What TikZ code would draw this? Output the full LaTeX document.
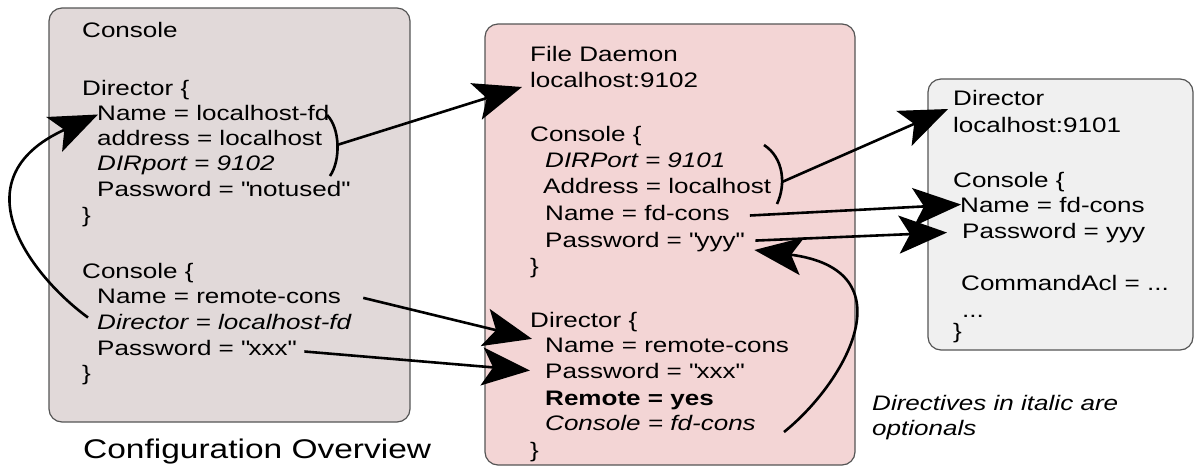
\documentclass[tikz,border=0pt]{standalone}
\usepackage{fontspec}
\setmainfont{Liberation Sans}[FakeStretch=1.24]
\usetikzlibrary{arrows.meta}
\definecolor{leftfill}{HTML}{E1D9D9}
\definecolor{midfill}{HTML}{F3D5D5}
\definecolor{rightfill}{HTML}{F0F0F0}
\definecolor{edgegray}{HTML}{555555}
\newcommand\bodyfont{\fontsize{21}{26}\selectfont}
\newcommand\capfont{\fontsize{27}{31}\selectfont}
\newcommand\dq{\textquotedbl}
\begin{document}
\begin{tikzpicture}[x=1pt,y=-1pt,
  ln/.style={anchor=base west, inner sep=0pt, font=\bodyfont},
  panel/.style={draw=edgegray, line width=1.2pt, rounded corners=13pt},
  arr/.style={line width=2.6pt, -{Stealth[length=48pt,width=38pt,inset=11pt]}},
  brk/.style={line width=2.6pt}]
\useasboundingbox (0,0) rectangle (1195,467);
% panels
\draw[panel, fill=leftfill] (49,8) rectangle (410,422);
\draw[panel, fill=midfill] (485,24) rectangle (855,465);
\draw[panel, fill=rightfill] (928,79) rectangle (1193,350);
% left texts
\node[ln] (L1) at (82,37) {Console};
\node[ln] (L2) at (82,95) {Director \{};
\node[ln] (L3) at (97,120) {Name = localhost-fd};
\node[ln] (L4) at (97,145) {address = localhost};
\node[ln] (L5) at (97,170) {\itshape DIRport = 9102};
\node[ln] (L6) at (97,196) {Password = \dq notused\dq};
\node[ln] (L7) at (82,222) {\}};
\node[ln] (L8) at (82,278) {Console \{};
\node[ln] (L9) at (97,303) {Name = remote-cons};
\node[ln] (L10) at (97,329) {\itshape Director = localhost-fd};
\node[ln] (L11) at (97,355) {Password = \dq xxx\dq};
\node[ln] (L12) at (82,380) {\}};
\node[anchor=base west, inner sep=0pt, font=\capfont] (cap) at (83,458) {Configuration Overview};
% middle texts
\node[ln] (M1) at (530,61) {File Daemon};
\node[ln] (M2) at (530,87) {localhost:9102};
\node[ln] (M3) at (530,141) {Console \{};
\node[ln] (M4) at (545,167) {\itshape DIRPort = 9101};
\node[ln] (M5) at (543,193) {Address = localhost};
\node[ln] (M6) at (545,220) {Name = fd-cons};
\node[ln] (M7) at (545,247) {Password = \dq yyy\dq};
\node[ln] (M8) at (530,273) {\}};
\node[ln] (M9) at (530,327) {Director \{};
\node[ln] (M10) at (545,352) {Name = remote-cons};
\node[ln] (M11) at (545,378) {Password = \dq xxx\dq};
\node[ln] (M12) at (545,405) {\bfseries Remote = yes};
\node[ln] (M13) at (545,430) {\itshape Console = fd-cons};
\node[ln] (M14) at (530,457) {\}};
% right texts
\node[ln] (R1) at (953,105) {Director};
\node[ln] (R2) at (953,132) {localhost:9101};
\node[ln] (R3) at (953,187) {Console \{};
\node[ln] (R4) at (960,212) {Name = fd-cons};
\node[ln] (R5) at (962,238) {Password = yyy};
\node[ln] (R6) at (961,290) {CommandAcl = ...};
\node[ln] (R7) at (962,317) {...};
\node[ln] (R8) at (953,338) {\}};
% note
\node[ln, font=\bodyfont\itshape] (N1) at (872,410) {Directives in italic are};
\node[ln, font=\bodyfont\itshape] (N2) at (872,435) {optionals};
% brackets
\coordinate (lbrk) at (337,145);
\draw[brk] (327,115) .. controls (340,128) and (341,160) .. (330,176);
\coordinate (mbrk) at (782,182);
\draw[brk] (764,145) .. controls (784,158) and (786,185) .. (777,204);
% connectors
\draw[arr] ([xshift=-9pt,yshift=4pt]L10.west) .. controls +(-55,-40) and +(-143,65) .. ([xshift=1pt,yshift=-2pt]L3.west);
\draw[arr] (lbrk) -- ([xshift=-8pt]M2.base west);
\draw[arr] ([xshift=22pt,yshift=-2pt]L9.east) -- ([xshift=-13pt,yshift=6pt]M10.west);
\draw[arr] ([xshift=9pt,yshift=-4pt]L11.east) -- ([xshift=-15pt]M11.west);
\draw[arr] (mbrk) -- ([xshift=-5pt,yshift=-4pt]R1.base west);
\draw[arr] ([xshift=20pt,yshift=-3pt]M6.east) -- ([xshift=1pt]R4.west);
\draw[arr] ([xshift=12pt,yshift=1pt]M7.east) -- ([xshift=-15pt]R5.west);
\draw[arr] ([xshift=28pt,yshift=-2pt]M13.base east) .. controls +(62,-50) and +(155,20) .. ([xshift=11pt,yshift=-3pt]M7.base east);
\end{tikzpicture}
\end{document}
